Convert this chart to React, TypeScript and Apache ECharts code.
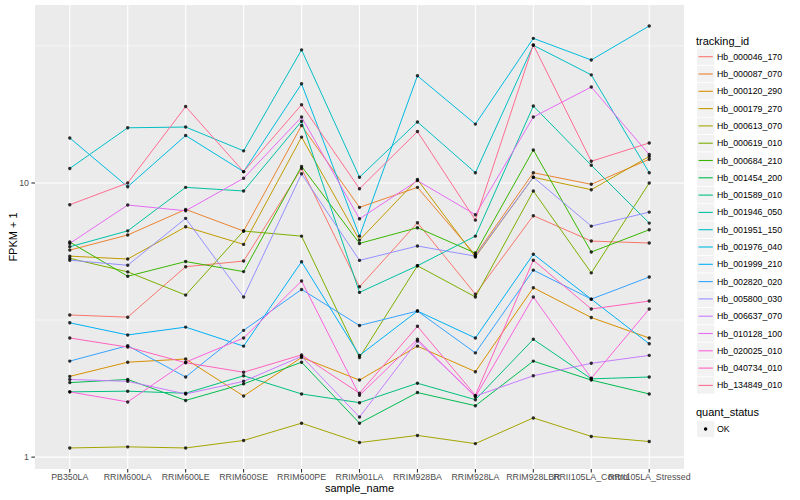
import React, { useEffect, useRef } from "react";
import * as echarts from "echarts";

const FONT = '"Liberation Sans", Arial, Helvetica, sans-serif';

const samples = [
  "PB350LA",
  "RRIM600LA",
  "RRIM600LE",
  "RRIM600SE",
  "RRIM600PE",
  "RRIM901LA",
  "RRIM928BA",
  "RRIM928LA",
  "RRIM928LBR",
  "RRII105LA_Control",
  "RRII105LA_Stressed",
];

const trackingIds = [
  "Hb_000046_170",
  "Hb_000087_070",
  "Hb_000120_290",
  "Hb_000179_270",
  "Hb_000613_070",
  "Hb_000619_010",
  "Hb_000684_210",
  "Hb_001454_200",
  "Hb_001589_010",
  "Hb_001946_050",
  "Hb_001951_150",
  "Hb_001976_040",
  "Hb_001999_210",
  "Hb_002820_020",
  "Hb_005800_030",
  "Hb_006637_070",
  "Hb_010128_100",
  "Hb_020025_010",
  "Hb_040734_010",
  "Hb_134849_010",
];

const colors = [
  "#F8766D", "#EA8331", "#D89000", "#C09B00", "#A3A500",
  "#7CAE00", "#39B600", "#00BB4E", "#00BF7D", "#00C1A3",
  "#00BFC4", "#00BAE0", "#00B0F6", "#35A2FF", "#9590FF",
  "#C77CFF", "#E76BF3", "#FA62DB", "#FF62BC", "#FF6C91",
];

// FPKM + 1 per sample (same order as `samples`)
const hb_000046_170 = [3.30, 3.24, 4.95, 5.19, 11.3, 4.18, 7.16, 3.93, 7.60, 6.14, 6.04];
const hb_000087_070 = [5.69, 6.46, 8.01, 6.68, 16.2, 8.15, 9.64, 5.46, 10.9, 9.89, 12.2];
const hb_000120_290 = [1.97, 2.22, 2.28, 1.67, 2.31, 1.91, 2.54, 2.05, 4.15, 3.23, 2.72];
const hb_000179_270 = [5.41, 5.28, 6.92, 5.97, 14.7, 6.19, 10.3, 5.37, 10.5, 9.45, 12.5];
const hb_000613_070 = [1.08, 1.09, 1.08, 1.15, 1.33, 1.13, 1.20, 1.12, 1.39, 1.19, 1.14];
const hb_000619_010 = [5.31, 4.74, 3.90, 6.68, 6.40, 2.31, 4.99, 3.84, 9.35, 4.70, 10.0];
const hb_000684_210 = [6.09, 4.57, 5.17, 4.75, 11.5, 6.02, 6.87, 5.55, 13.2, 5.60, 6.75];
const hb_001454_200 = [1.87, 1.92, 1.61, 1.85, 2.22, 1.33, 1.72, 1.54, 2.24, 1.91, 1.70];
const hb_001589_010 = [1.73, 1.74, 1.71, 1.98, 1.70, 1.58, 1.86, 1.62, 2.69, 1.93, 1.96];
const hb_001946_050 = [5.85, 6.69, 9.64, 9.35, 16.8, 3.99, 4.99, 6.40, 19.1, 11.6, 7.14];
const hb_001951_150 = [11.3, 15.9, 16.0, 13.1, 30.6, 10.5, 16.7, 10.9, 31.8, 24.8, 10.9];
const hb_001976_040 = [14.6, 9.69, 14.9, 11.0, 23.0, 6.40, 24.6, 16.4, 33.7, 28.1, 37.4];
const hb_001999_210 = [3.09, 2.79, 2.98, 2.54, 5.16, 2.35, 3.41, 2.72, 5.50, 3.77, 2.59];
const hb_002820_020 = [2.24, 2.55, 1.96, 2.90, 4.09, 3.02, 3.41, 2.40, 4.81, 3.77, 4.54];
const hb_005800_030 = [5.23, 5.01, 7.43, 3.84, 10.8, 5.22, 5.89, 5.41, 10.5, 6.96, 7.83];
const hb_006637_070 = [1.92, 1.89, 1.70, 1.89, 2.33, 1.40, 2.65, 1.67, 1.98, 2.20, 2.35];
const hb_010128_100 = [6.02, 8.31, 7.92, 10.4, 17.4, 7.40, 10.2, 7.66, 17.4, 22.4, 12.7];
const hb_020025_010 = [1.73, 1.59, 2.22, 2.72, 4.39, 1.68, 2.69, 1.66, 3.84, 1.94, 3.47];
const hb_040734_010 = [2.72, 2.52, 2.21, 2.04, 2.36, 1.71, 3.00, 1.68, 5.23, 3.47, 3.71];
const hb_134849_010 = [8.33, 10.0, 19.0, 11.0, 19.3, 9.53, 15.4, 7.32, 31.9, 12.0, 14.0];

const seriesValues = [
  hb_000046_170, hb_000087_070, hb_000120_290, hb_000179_270, hb_000613_070,
  hb_000619_010, hb_000684_210, hb_001454_200, hb_001589_010, hb_001946_050,
  hb_001951_150, hb_001976_040, hb_001999_210, hb_002820_020, hb_005800_030,
  hb_006637_070, hb_010128_100, hb_020025_010, hb_040734_010, hb_134849_010,
];

const quantStatus = ["OK"];

const yMajorBreaks = [1, 10];
const yMinorBreaks = [3.1623, 31.623];
const yMin = 0.905;
const yMax = 44.6;

function buildLegend(): any[] {
  const els: any[] = [];
  const x0 = 697;
  const rowH = 17.3;
  const firstY = 56.7;
  els.push({
    type: "text",
    x: 696,
    y: 40.5,
    style: { text: "tracking_id", fill: "#000000", fontSize: 11, fontFamily: FONT, verticalAlign: "middle", align: "left" },
    silent: true,
  });
  trackingIds.forEach((id, k) => {
    const cy = firstY + rowH * k;
    els.push({
      type: "rect",
      shape: { x: x0, y: cy - 8.2, width: 17.3, height: 16.4 },
      style: { fill: "#F2F2F2" },
      silent: true,
    });
    els.push({
      type: "line",
      shape: { x1: x0 + 1.5, y1: cy, x2: x0 + 15.8, y2: cy },
      style: { stroke: colors[k], lineWidth: 1.1 },
      silent: true,
    });
    els.push({
      type: "text",
      x: 717,
      y: cy,
      style: { text: id, fill: "#000000", fontSize: 8.8, fontFamily: FONT, verticalAlign: "middle", align: "left" },
      silent: true,
    });
  });
  els.push({
    type: "text",
    x: 696,
    y: 412.3,
    style: { text: "quant_status", fill: "#000000", fontSize: 11, fontFamily: FONT, verticalAlign: "middle", align: "left" },
    silent: true,
  });
  quantStatus.forEach((q, k) => {
    const cy = 429 + rowH * k;
    els.push({
      type: "rect",
      shape: { x: x0, y: cy - 8.2, width: 17.3, height: 16.4 },
      style: { fill: "#F2F2F2" },
      silent: true,
    });
    els.push({
      type: "circle",
      shape: { cx: x0 + 8.6, cy, r: 1.7 },
      style: { fill: "#000000" },
      silent: true,
    });
    els.push({
      type: "text",
      x: 717,
      y: cy,
      style: { text: q, fill: "#000000", fontSize: 8.8, fontFamily: FONT, verticalAlign: "middle", align: "left" },
      silent: true,
    });
  });
  return els;
}

function buildOption(): any {
  const lineSeries = trackingIds.map((id, k) => ({
    type: "line",
    name: id,
    data: seriesValues[k].map((v, i) => [i, v]),
    showSymbol: false,
    symbol: "none",
    silent: true,
    z: 2,
    lineStyle: { color: colors[k], width: 1 },
    itemStyle: { color: colors[k] },
  }));

  const points: number[][] = [];
  seriesValues.forEach((vals) => vals.forEach((v, i) => points.push([i, v])));

  // vertical grid lines, x ticks and x tick labels (one per sample)
  const vGrid = {
    type: "custom",
    name: "vgrid",
    silent: true,
    z: 1,
    data: samples.map((_, i) => [i, 1]),
    renderItem: (params: any, api: any) => {
      const cs = params.coordSys;
      const idx = api.value(0);
      const x = api.coord([idx, 1])[0];
      const bottom = cs.y + cs.height;
      return {
        type: "group",
        children: [
          { type: "line", shape: { x1: x, y1: cs.y, x2: x, y2: bottom }, style: { stroke: "#FFFFFF", lineWidth: 1.1 } },
          { type: "line", shape: { x1: x, y1: bottom, x2: x, y2: bottom + 3.6 }, style: { stroke: "#333333", lineWidth: 1.1 } },
          {
            type: "text",
            x,
            y: bottom + 8.2,
            style: {
              text: samples[Math.round(idx)],
              fill: "#4D4D4D",
              fontSize: 8.8,
              fontFamily: FONT,
              align: "center",
              verticalAlign: "middle",
            },
          },
        ],
      };
    },
  };

  const hData = [
    ...yMajorBreaks.map((v) => [0, v, 1]),
    ...yMinorBreaks.map((v) => [0, v, 0]),
  ];
  const hGrid = {
    type: "custom",
    name: "hgrid",
    silent: true,
    z: 1,
    data: hData,
    renderItem: (params: any, api: any) => {
      const cs = params.coordSys;
      const y = api.coord([0, api.value(1)])[1];
      const major = api.value(2) === 1;
      const children: any[] = [
        {
          type: "line",
          shape: { x1: cs.x, y1: y, x2: cs.x + cs.width, y2: y },
          style: { stroke: "#FFFFFF", lineWidth: major ? 1.1 : 0.55 },
        },
      ];
      if (major) {
        children.push({
          type: "line",
          shape: { x1: cs.x - 3.6, y1: y, x2: cs.x, y2: y },
          style: { stroke: "#333333", lineWidth: 1.1 },
        });
      }
      return { type: "group", children };
    },
  };

  const pointSeries = {
    type: "scatter",
    name: "OK",
    data: points,
    symbol: "circle",
    symbolSize: 3.4,
    silent: true,
    z: 3,
    itemStyle: { color: "#000000" },
  };

  return {
    animation: false,
    backgroundColor: "#FFFFFF",
    textStyle: { fontFamily: FONT },
    grid: {
      left: 35,
      right: 116,
      top: 5,
      bottom: 31,
      show: true,
      backgroundColor: "#EBEBEB",
      borderWidth: 0,
      containLabel: false,
      outerBoundsMode: "none",
    },
    xAxis: {
      type: "value",
      min: -0.6,
      max: 10.6,
      axisLine: { show: false },
      axisTick: { show: false },
      splitLine: { show: false },
      axisLabel: { show: false },
      name: "sample_name",
      nameLocation: "middle",
      nameGap: 13,
      nameMoveOverlap: false,
      nameTextStyle: { color: "#000000", fontSize: 11, fontFamily: FONT },
    },
    yAxis: {
      type: "log",
      logBase: 10,
      min: yMin,
      max: yMax,
      axisLine: { show: false },
      axisTick: { show: false },
      splitLine: { show: false },
      minorSplitLine: { show: false },
      axisLabel: {
        formatter: (v: number) => {
          const hit = yMajorBreaks.find((b) => Math.abs(b - v) < 1e-6 * b);
          return hit !== undefined ? String(hit) : "";
        },
        color: "#4D4D4D",
        fontSize: 8.8,
        fontFamily: FONT,
        margin: 6,
      },
      name: "FPKM + 1",
      nameLocation: "middle",
      nameGap: 17,
      nameRotate: 90,
      nameMoveOverlap: false,
      nameTextStyle: { color: "#000000", fontSize: 11, fontFamily: FONT },
    },
    graphic: buildLegend(),
    series: [vGrid, hGrid, ...lineSeries, pointSeries],
  };
}

export default function App() {
  const ref = useRef<HTMLDivElement>(null);
  useEffect(() => {
    if (!ref.current) return;
    const chart = echarts.init(ref.current, null, { renderer: "svg" });
    chart.setOption(buildOption());
    return () => {
      chart.dispose();
    };
  }, []);
  return (
    <div
      ref={ref}
      style={{ position: "absolute", left: 0, top: 0, width: 800, height: 500 }}
    />
  );
}
